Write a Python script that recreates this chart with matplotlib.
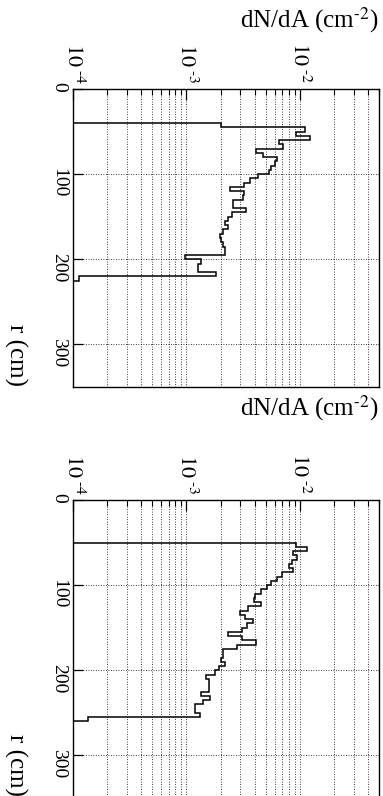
import numpy as np
import matplotlib
matplotlib.use('Agg')
import matplotlib.pyplot as plt
from matplotlib.ticker import LogLocator, FixedLocator, FuncFormatter, NullFormatter

plt.rcParams['font.family'] = ['Liberation Serif', 'DejaVu Serif']
plt.rcParams['mathtext.fontset'] = 'stix'

# radial bins, 5 cm wide
r_edges = np.arange(0, 355, 5)

# dN/dA per bin (cm^-2), top panel: zero below 40 cm and above 225 cm
top_vals = [0.0] * 8 + [
    2.01e-3, 1.12e-2, 9.2e-3, 1.23e-2, 6.6e-3, 7.05e-3, 4.14e-3, 4.77e-3,
    6.3e-3, 6.0e-3, 5.6e-3, 5.35e-3, 4.3e-3, 3.66e-3, 3.22e-3, 2.41e-3,
    3.25e-3, 3.15e-3, 2.58e-3, 2.58e-3, 3.37e-3, 2.55e-3, 2.31e-3, 2.17e-3,
    2.31e-3, 2.1e-3, 1.96e-3, 2.03e-3, 2.12e-3, 2.18e-3, 2.2e-3, 9.8e-4,
    1.35e-3, 1.27e-3, 1.27e-3, 1.83e-3, 1.12e-4,
] + [0.0] * 25

# bottom panel: zero below 50 cm and above 260 cm
bot_vals = [0.0] * 10 + [
    9.3e-3, 1.16e-2, 8.8e-3, 9.5e-3, 8.5e-3, 8.0e-3, 8.7e-3, 7.0e-3,
    6.3e-3, 5.6e-3, 5.1e-3, 4.55e-3, 4.05e-3, 3.95e-3, 4.58e-3, 3.5e-3,
    2.96e-3, 3.29e-3, 3.87e-3, 3.4e-3, 3.12e-3, 2.31e-3, 3.12e-3, 4.14e-3,
    2.77e-3, 2.11e-3, 2.11e-3, 2.04e-3, 2.18e-3, 1.95e-3, 1.8e-3, 1.49e-3,
    1.57e-3, 1.57e-3, 1.57e-3, 1.35e-3, 1.61e-3, 1.41e-3, 1.19e-3, 1.19e-3,
    1.32e-3, 1.36e-4,
] + [0.0] * 18

r_ticks = [0, 100, 200, 300]
x_label = r'dN/dA (cm$^{\text{-}2}$)'
y_label = 'r (cm)'

W, H = 383, 796
fig = plt.figure(figsize=(W / 100, H / 100), dpi=100)


def fmt_pow(v, pos):
    return r'$10^{\ \text{-}%d}$' % abs(int(round(np.log10(v))))


def draw_panel(ax, vals):
    v = np.asarray(vals)
    v = np.where(v > 0, v, 1e-7)   # empty bins drop off the log axis
    ax.stairs(v, r_edges, orientation='horizontal', baseline=None,
              color='black', lw=1.1)
    ax.set_xscale('log')
    ax.set_xlim(1e-4, 5e-2)
    ax.set_ylim(350, 0)
    ax.xaxis.tick_top()
    ax.xaxis.set_major_locator(LogLocator(base=10, numticks=10))
    ax.xaxis.set_minor_locator(LogLocator(base=10, subs=np.arange(2, 10), numticks=20))
    ax.xaxis.set_major_formatter(FuncFormatter(fmt_pow))
    ax.xaxis.set_minor_formatter(NullFormatter())
    ax.yaxis.set_major_locator(FixedLocator(r_ticks))
    ax.tick_params(axis='x', which='major', direction='in', length=8, width=0.9,
                   labelsize=16, labelrotation=-90, pad=4)
    ax.tick_params(axis='x', which='minor', direction='in', length=4.5, width=0.8)
    ax.tick_params(axis='y', which='major', direction='in', length=7, width=0.9,
                   labelsize=14, labelrotation=-90, pad=4)
    ax.grid(True, which='both', axis='x', color='black', lw=0.6, ls=(0, (1, 2)))
    ax.grid(True, which='major', axis='y', color='black', lw=0.6, ls=(0, (1, 2)))
    for s in ax.spines.values():
        s.set_linewidth(1.0)


ax1 = fig.add_axes([73 / W, 1 - 387 / H, 306 / W, 298 / H])
ax2 = fig.add_axes([73 / W, 1 - 798 / H, 306 / W, 298 / H])
draw_panel(ax1, top_vals)
draw_panel(ax2, bot_vals)

# axis titles (the whole picture is turned a quarter turn)
fig.text(378 / W, 1 - 20 / H, x_label, ha='right', va='center', fontsize=18)
fig.text(378 / W, 1 - 408 / H, x_label, ha='right', va='center', fontsize=18)
fig.text(16 / W, 1 - 386 / H, y_label, ha='center', va='bottom', rotation=-90, fontsize=18)
fig.text(16 / W, 1 - 796 / H, y_label, ha='center', va='bottom', rotation=-90, fontsize=18)

fig.savefig('out.png', dpi=100)
